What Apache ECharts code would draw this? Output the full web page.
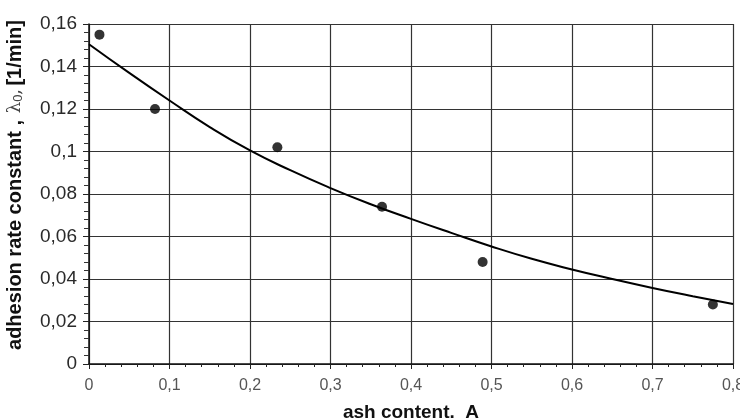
<!DOCTYPE html>
<html>
<head>
<meta charset="utf-8">
<script src="https://cdn.jsdelivr.net/npm/echarts@6/dist/echarts.min.js"></script>
<style>
  html, body { margin: 0; padding: 0; background: #ffffff; }
  #chart { width: 740px; height: 419px; }
</style>
</head>
<body>
<div id="chart"></div>
<script>
// Measured adhesion rate constants vs. ash content
const ashContent = [0.013, 0.082, 0.234, 0.364, 0.489, 0.775];
const rateConstant = [0.155, 0.120, 0.102, 0.074, 0.048, 0.028];

// Fitted trend curve, read every 0.05 of ash content
const curveAsh = [0, 0.05, 0.1, 0.15, 0.2, 0.25, 0.3, 0.35, 0.4, 0.45, 0.5, 0.55, 0.6, 0.65, 0.7, 0.75, 0.8];
const curveRate = [0.1505, 0.1370, 0.1240, 0.1115, 0.1005, 0.0912, 0.0828, 0.0752, 0.0683, 0.0617,
                   0.0553, 0.0495, 0.0445, 0.0400, 0.0358, 0.0319, 0.0282];

const comma = v => String(+v.toFixed(2)).replace('.', ',');

const chart = echarts.init(document.getElementById('chart'));
chart.setOption({
  animation: false,
  backgroundColor: '#ffffff',
  grid: { left: 89, right: 7, top: 24, bottom: 55, outerBoundsMode: 'none', containLabel: false },
  xAxis: {
    type: 'value',
    min: 0, max: 0.8, interval: 0.1,
    name: 'ash content.  A',
    nameLocation: 'middle',
    nameGap: 39,
    nameTextStyle: { fontFamily: 'Liberation Sans', fontWeight: 'bold', fontSize: 19, color: '#111' },
    axisLine: { show: true, lineStyle: { color: '#111', width: 1.5 } },
    axisTick: { show: true, length: 5, lineStyle: { color: '#222', width: 1 } },
    minorTick: { show: true, splitNumber: 5, length: 3, lineStyle: { color: '#222', width: 1 } },
    axisLabel: { formatter: comma, fontFamily: 'Liberation Sans', fontSize: 16, color: '#555', margin: 14 },
    splitLine: { show: true, lineStyle: { color: '#333', width: 1.2 } }
  },
  yAxis: {
    type: 'value',
    min: 0, max: 0.16, interval: 0.02,
    name: '{b|adhesion rate constant ,}  {l|λ}{s|0}{l|,} {b|[1/min]}',
    nameLocation: 'middle',
    nameRotate: 90,
    nameGap: 64,
    nameTextStyle: {
      padding: [0, 0, 0, 18],
      rich: {
        b: { fontFamily: 'Liberation Sans', fontWeight: 'bold', fontSize: 20, color: '#111' },
        l: { fontFamily: 'DejaVu Serif', fontSize: 18, color: '#444' },
        s: { fontFamily: 'Liberation Sans', fontSize: 13, color: '#444', padding: [7, 0, 0, 0] }
      }
    },
    axisLine: { show: true, lineStyle: { color: '#111', width: 1.5 } },
    axisTick: { show: true, inside: false, length: 6, lineStyle: { color: '#222', width: 1 } },
    minorTick: { show: true, splitNumber: 5, length: 5, lineStyle: { color: '#333', width: 1 } },
    axisLabel: { formatter: comma, fontFamily: 'Liberation Sans', fontSize: 19, color: '#2a2a2a', margin: 12 },
    splitLine: { show: true, lineStyle: { color: '#333', width: 1.2 } }
  },
  series: [
    {
      type: 'line',
      data: curveAsh.map((x, i) => [x, curveRate[i]]),
      smooth: true,
      showSymbol: false,
      lineStyle: { color: '#000', width: 2 },
      z: 3
    },
    {
      type: 'scatter',
      data: ashContent.map((x, i) => [x, rateConstant[i]]),
      symbol: 'circle',
      symbolSize: 10,
      itemStyle: { color: '#000' },
      z: 4
    }
  ]
});
</script>
</body>
</html>
